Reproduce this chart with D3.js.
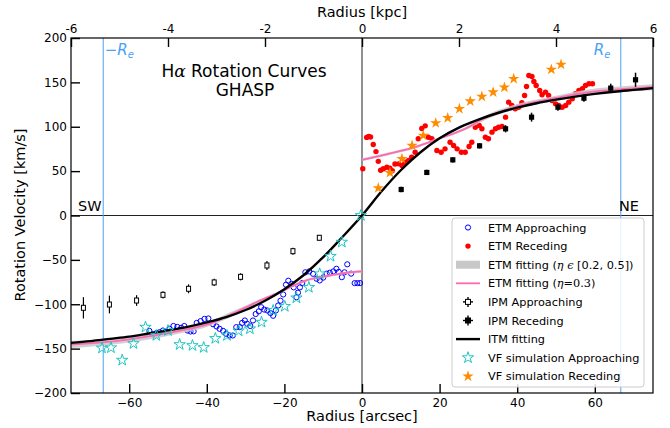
<!DOCTYPE html>
<html><head><meta charset="utf-8">
<script src="https://cdn.jsdelivr.net/npm/d3@7"></script>
<style>body{margin:0;background:#fff}svg{display:block}text{font-family:"DejaVu Sans",sans-serif}</style>
</head><body><svg id="c" width="670" height="428"></svg>
<script>
// ---------------- DATA ----------------
const xTicks = [-60,-40,-20,0,20,40,60];
const yTicks = [-200,-150,-100,-50,0,50,100,150,200];
const kpcTicks = [-6,-4,-2,0,2,4,6];
const Re = 66.7;

// ETM Approaching (blue open circles)
const etmAppR = [-54.8,-53.9,-53.0,-52.2,-51.3,-50.5,-49.6,-48.6,-47.6,-46.6,-45.8,-45.0,-44.2,-43.4,-42.6,-41.6,-40.6,-39.6,-38.4,-37.5,-36.7,-35.8,-35.0,-34.1,-33.3,-32.4,-31.5,-30.9,-30.2,-29.6,-28.8,-28.1,-27.4,-26.6,-26.0,-25.2,-24.4,-23.6,-22.9,-22.2,-21.6,-21.0,-20.3,-19.6,-19.0,-18.2,-17.6,-16.9,-16.5,-16.0,-15.4,-14.6,-13.6,-12.6,-11.7,-10.9,-10.0,-9.1,-8.3,-7.4,-6.6,-6.0,-5.2,-4.5,-3.8,-2.8,-1.9,-1.2,-0.5];
const etmAppV = [-130,-134,-132.5,-131.5,-129.6,-131,-127.7,-124.5,-125.5,-126.5,-124.5,-129.6,-130.7,-130.5,-121,-119,-116.5,-116,-122.5,-125,-127.7,-130,-133.3,-135.2,-135.2,-125.8,-125.8,-121,-118.3,-122,-124.5,-118.3,-111,-108,-103.3,-106,-107,-110,-113,-107,-101.4,-96,-89,-78,-73.5,-77,-81,-92,-87,-81,-76,-64,-63,-65.7,-71.3,-73.2,-70,-65.5,-64.5,-63,-60,-63.5,-69.5,-64,-55,-65.5,-76.2,-76.2,-76.2];

// ETM Receding (red dots)
const etmRecR = [0.2,1.2,1.7,2.2,2.9,3.6,4.2,4.8,5.5,6.4,7.2,7.8,8.5,9.4,10.3,11.1,12.0,12.8,13.7,14.5,15.4,16.3,17.1,18.0,19.3,20.4,21.4,22.7,23.6,24.5,25.6,26.6,27.6,28.3,29.2,30.2,30.9,31.8,32.6,33.5,34.4,35.2,36.1,37.0,37.8,38.6,39.5,40.4,41.2,41.9,42.4,43.0,43.8,44.3,44.9,45.8,46.4,47.3,48.1,49.0,49.9,50.7,51.6,52.5,53.3,54.2,55.0,55.9,56.8,57.6,58.5,59.4];
const etmRecV = [52.6,88,89,88.5,80,72,61,51,52.6,54.4,53.3,50.5,58,58.2,56.3,60,62,65.7,71.3,86.4,98,101,88.2,86.4,73.2,71.3,75.1,82.6,78.9,75.1,71.3,71.3,77.7,82.6,99.5,101.4,97.7,88.2,86.4,93.9,97.7,99.5,100.3,110.8,127.7,124,120.2,122,127,135.2,145.4,157.7,156.6,151,146.5,140.8,136,139,135.2,129.6,125.8,124,122,124,127.7,131.5,137.1,140.8,142.8,146.5,148.4,148.4];

// ETM fitting eta in [0.2,0.5] (gray band) and eta = 0.3 (pink)
const bandAppR   = [-75,-67,-60,-52,-45,-40,-34,-27.2,-21.2,-14.3,-8.3,-4,0];
const bandAppLow = [-149.5,-146.5,-143,-137.5,-131,-125.5,-115,-99.5,-88,-74.5,-69,-66,-64.5];
const bandAppHigh= [-141,-139.5,-136,-130.5,-125,-120.5,-109,-96,-85,-71.5,-66.5,-63.5,-61.5];
const bandRecR   = [0,6.8,13.7,19.7,26.6,31,40,50,58.5,67,75];
const bandRecLow = [61.5,68,75.5,85,96,106,120,129,135.5,139,141];
const bandRecHigh= [64.5,71,78.5,88,99.5,111,125.5,135,142,145.5,148];
const pinkAppR = [-75,-67,-60,-52,-45,-40,-34,-27.2,-21.2,-14.3,-8.3,-4,0];
const pinkAppV = [-145.5,-143,-139.5,-134,-128,-123,-112,-97.7,-86.4,-73,-67.6,-64.5,-63];
const pinkRecR = [0,6.8,13.7,19.7,26.6,31,40,50,58.5,67,75];
const pinkRecV = [62.7,69.5,77,86.4,97.7,108.5,123,132.5,139,142.5,145];

// IPM Approaching / Receding (squares with error bars)
const ipmAppR = [-71.8,-65.1,-58.1,-51.3,-44.7,-38.1,-31.3,-24.5,-17.8,-11.0];
const ipmAppV = [-104,-100.3,-95.8,-89.4,-82.6,-75.4,-69.1,-56.3,-40.2,-25.1];
const ipmAppE = [12,10,6,4,5,4,4,5,4,3];
const ipmRecR = [10.1,16.7,23.4,30.3,37.0,43.7,50.5,57.2,64.1,70.5];
const ipmRecV = [29.3,48.5,62.7,78.5,97.7,110.8,122,132.2,143.5,152.9];
const ipmRecE = [3,3,3,3,4,5,4,4,5,8];

// ITM fitting (black)
const itmR = [-75,-70,-65,-60,-55,-50,-45,-40,-35,-30,-25,-20,-15,-10,-5,0,5,10,15,20,25,30,35,40,45,50,55,60,65,70,75];
const itmV = [-143.5,-141.5,-139,-136.5,-133,-129.5,-125.5,-120.5,-114.5,-106.5,-96,-83,-67,-47,-24,0,27,51,71,87,99,108,115.5,121.5,126.5,130.5,134,137,139.5,141.5,143.5];

// VF simulation Approaching / Receding (stars)
const vfAppR = [-67,-64.7,-61.8,-58.9,-55.8,-53,-50,-47,-43.7,-40.8,-37.8,-34.8,-31.8,-28.9,-25.9,-22.9,-19.9,-16.9,-13.7,-10.9,-8.1,-5.2,-0.3];
const vfAppV = [-149.3,-149,-163,-144.3,-125.8,-135.2,-129.6,-145.4,-146.5,-148.7,-138.5,-135.2,-130,-127.7,-120.2,-107,-102.4,-92.8,-81,-65.7,-46,-30,0];
const vfRecR = [4.2,7.2,10.3,12.9,15.8,19.0,22.1,25.1,27.9,30.9,33.8,36.7,39.1,48.8,51.3];
const vfRecV = [31,48.2,63.9,78.9,90.1,104.2,110,120.2,128.8,134,139,144.4,154,164.5,170.1];

const legendLabels = ["ETM Approaching","ETM Receding","ETM fitting","ETM fitting","IPM Approaching","IPM Receding","ITM fitting","VF simulation Approaching","VF simulation Receding"];

// ---------------- DRAW ----------------
const svg = d3.select("#c");
const L=71,R=653,T=38,B=393;
const x = d3.scaleLinear().domain([-75,75]).range([L,R]);
const xk = d3.scaleLinear().domain([-6,6]).range([L,R]);
const y = d3.scaleLinear().domain([-200,200]).range([B,T]);
const zip = (a,b)=>a.map((v,i)=>[v,b[i]]);

svg.append("defs").append("clipPath").attr("id","clip")
  .append("rect").attr("x",L).attr("y",T).attr("width",R-L).attr("height",B-T);
const g = svg.append("g").attr("clip-path","url(#clip)");

// zero lines
g.append("line").attr("x1",L).attr("x2",R).attr("y1",y(0)).attr("y2",y(0)).attr("stroke","#222").attr("stroke-width",1);
g.append("line").attr("x1",x(0)).attr("x2",x(0)).attr("y1",T).attr("y2",B).attr("stroke","#222").attr("stroke-width",1);
// Re lines
const blue="#4a9ff5";
[-Re,Re].forEach(r=>g.append("line").attr("x1",x(r)).attr("x2",x(r)).attr("y1",T).attr("y2",B).attr("stroke",blue).attr("stroke-width",1));

// ETM approaching
g.append("g").selectAll("circle").data(zip(etmAppR,etmAppV)).join("circle")
  .attr("cx",d=>x(d[0])).attr("cy",d=>y(d[1])).attr("r",2.6)
  .attr("fill","none").attr("stroke","#0000ff").attr("stroke-width",1);
// ETM receding
g.append("g").selectAll("circle").data(zip(etmRecR,etmRecV)).join("circle")
  .attr("cx",d=>x(d[0])).attr("cy",d=>y(d[1])).attr("r",2.7).attr("fill","#ff0000");

// band
const area = d3.area().x(d=>x(d[0])).y0(d=>y(d[1])).y1(d=>y(d[2])).curve(d3.curveMonotoneX);
g.append("path").datum(bandAppR.map((r,i)=>[r,bandAppLow[i],bandAppHigh[i]])).attr("d",area).attr("fill","#c8c8c8").attr("opacity",0.85);
g.append("path").datum(bandRecR.map((r,i)=>[r,bandRecLow[i],bandRecHigh[i]])).attr("d",area).attr("fill","#c8c8c8").attr("opacity",0.85);
const line = d3.line().x(d=>x(d[0])).y(d=>y(d[1])).curve(d3.curveMonotoneX);
const pink="#ff69b4";
g.append("path").datum(zip(pinkAppR,pinkAppV)).attr("d",line).attr("fill","none").attr("stroke",pink).attr("stroke-width",1.8);
g.append("path").datum(zip(pinkRecR,pinkRecV)).attr("d",line).attr("fill","none").attr("stroke",pink).attr("stroke-width",1.8);

// IPM
const ipmA = g.append("g");
zip(ipmAppR,ipmAppV).forEach((d,i)=>{
  ipmA.append("line").attr("x1",x(d[0])).attr("x2",x(d[0])).attr("y1",y(d[1]-ipmAppE[i])).attr("y2",y(d[1]+ipmAppE[i])).attr("stroke","#000").attr("stroke-width",1.2);
  ipmA.append("rect").attr("x",x(d[0])-2).attr("y",y(d[1])-2.5).attr("width",4).attr("height",5).attr("fill","#fff").attr("stroke","#000").attr("stroke-width",1);
});
const ipmRg = g.append("g");
zip(ipmRecR,ipmRecV).forEach((d,i)=>{
  ipmRg.append("line").attr("x1",x(d[0])).attr("x2",x(d[0])).attr("y1",y(d[1]-ipmRecE[i])).attr("y2",y(d[1]+ipmRecE[i])).attr("stroke","#000").attr("stroke-width",1.5);
  ipmRg.append("rect").attr("x",x(d[0])-2.6).attr("y",y(d[1])-2.6).attr("width",5.2).attr("height",5.2).attr("fill","#000");
});

// ITM
const smooth = d3.line().x(d=>x(d[0])).y(d=>y(d[1])).curve(d3.curveCatmullRom.alpha(0.5));
g.append("path").datum(zip(itmR,itmV)).attr("d",smooth).attr("fill","none").attr("stroke","#000").attr("stroke-width",2.4);

// VF stars
const star = d3.symbol().type(d3.symbolStar).size(40);
const cyan="#1fc4c4", orange="#ff8c00";
g.append("g").selectAll("path").data(zip(vfAppR,vfAppV)).join("path").attr("d",star)
  .attr("transform",d=>`translate(${x(d[0])},${y(d[1])})`).attr("fill","none").attr("stroke",cyan).attr("stroke-width",1);
g.append("g").selectAll("path").data(zip(vfRecR,vfRecV)).join("path").attr("d",star)
  .attr("transform",d=>`translate(${x(d[0])},${y(d[1])})`).attr("fill",orange);

// axes
const fmtM = d=> d<0 ? "\u2212"+Math.abs(d) : ""+d;
const ax = svg.append("g").attr("transform",`translate(0,${B})`).call(d3.axisBottom(x).tickValues(xTicks).tickSize(-9).tickPadding(5).tickFormat(fmtM));
const ay = svg.append("g").attr("transform",`translate(${L},0)`).call(d3.axisLeft(y).tickValues(yTicks).tickSize(-9).tickPadding(4).tickFormat(fmtM));
const at = svg.append("g").attr("transform",`translate(0,${T})`).call(d3.axisTop(xk).tickValues(kpcTicks).tickSize(-9).tickPadding(5).tickFormat(d=>d<0?"-"+Math.abs(d):""+d));
[ax,ay,at].forEach(a=>{a.select(".domain").remove();a.selectAll(".tick line").attr("stroke","#000").attr("stroke-width",1.4);a.selectAll("text").attr("font-size",12).attr("fill","#000").attr("font-family","DejaVu Sans");});
svg.append("rect").attr("x",L).attr("y",T).attr("width",R-L).attr("height",B-T).attr("fill","none").attr("stroke","#000").attr("stroke-width",1.2);

// labels
svg.append("text").attr("x",362).attr("y",421).attr("text-anchor","middle").attr("font-size",14.5).text("Radius [arcsec]");
svg.append("text").attr("x",362).attr("y",17).attr("text-anchor","middle").attr("font-size",14.5).text("Radius [kpc]");
svg.append("text").attr("transform","translate(25,215) rotate(-90)").attr("text-anchor","middle").attr("font-size",14.5).text("Rotation Velocity [km/s]");

const t1 = svg.append("text").attr("x",244).attr("y",77).attr("text-anchor","middle").attr("font-size",17);
t1.append("tspan").text("H");
t1.append("tspan").attr("font-family","DejaVu Serif").attr("font-style","italic").text("\u03b1");
t1.append("tspan").text(" Rotation Curves");
svg.append("text").attr("x",245).attr("y",96).attr("text-anchor","middle").attr("font-size",17).text("GHASP");

svg.append("text").attr("x",78).attr("y",211).attr("font-size",14.5).text("SW");
svg.append("text").attr("x",619).attr("y",211).attr("font-size",14.5).text("NE");

const reL = svg.append("text").attr("x",x(-Re)+1.5).attr("y",55).attr("fill",blue).attr("font-size",15).attr("font-family","DejaVu Serif");
reL.append("tspan").text("\u2212");
reL.append("tspan").attr("font-style","italic").text("R");
reL.append("tspan").attr("font-style","italic").attr("font-size",10).attr("dy",3).text("e");
const reR = svg.append("text").attr("x",x(Re)-27).attr("y",55).attr("fill",blue).attr("font-size",15).attr("font-family","DejaVu Serif");
reR.append("tspan").attr("font-style","italic").text("R");
reR.append("tspan").attr("font-style","italic").attr("font-size",10).attr("dy",3).text("e");

// legend
const lg = svg.append("g");
lg.append("rect").attr("x",452).attr("y",218).attr("width",192).attr("height",169).attr("rx",3)
  .attr("fill","#fff").attr("fill-opacity",0.85).attr("stroke","#cccccc").attr("stroke-width",1);
const rowY = i=>227.5+i*18.6, mx=468, tx=488;
legendLabels.forEach((lab,i)=>{
  const t = lg.append("text").attr("x",tx).attr("y",rowY(i)+4).attr("font-size",11.3);
  if(i===2){
    t.append("tspan").text(lab+" (");
    t.append("tspan").attr("font-family","DejaVu Serif").attr("font-style","italic").text("\u03b7 \u03f5");
    t.append("tspan").text(" [0.2, 0.5])");
  } else if(i===3){
    t.append("tspan").text(lab+" (");
    t.append("tspan").attr("font-family","DejaVu Serif").attr("font-style","italic").text("\u03b7");
    t.append("tspan").attr("font-family","DejaVu Serif").text("=0.3");
    t.append("tspan").text(")");
  } else t.text(lab);
});
lg.append("circle").attr("cx",mx).attr("cy",rowY(0)).attr("r",2.6).attr("fill","none").attr("stroke","#0000ff");
lg.append("circle").attr("cx",mx).attr("cy",rowY(1)).attr("r",2.7).attr("fill","#ff0000");
lg.append("rect").attr("x",456).attr("y",rowY(2)-4).attr("width",24).attr("height",8).attr("fill","#c8c8c8");
lg.append("line").attr("x1",456).attr("x2",480).attr("y1",rowY(3)).attr("y2",rowY(3)).attr("stroke",pink).attr("stroke-width",1.8);
[4,5].forEach(i=>{
  lg.append("line").attr("x1",mx-5).attr("x2",mx+5).attr("y1",rowY(i)).attr("y2",rowY(i)).attr("stroke","#000").attr("stroke-width",1.4);
  lg.append("line").attr("x1",mx).attr("x2",mx).attr("y1",rowY(i)-5).attr("y2",rowY(i)+5).attr("stroke","#000").attr("stroke-width",1.4);
  lg.append("rect").attr("x",mx-2.5).attr("y",rowY(i)-2.5).attr("width",5).attr("height",5).attr("fill",i===4?"#fff":"#000").attr("stroke","#000");
});
lg.append("line").attr("x1",456).attr("x2",480).attr("y1",rowY(6)).attr("y2",rowY(6)).attr("stroke","#000").attr("stroke-width",2.4);
lg.append("path").attr("d",star).attr("transform",`translate(${mx},${rowY(7)})`).attr("fill","none").attr("stroke",cyan);
lg.append("path").attr("d",star).attr("transform",`translate(${mx},${rowY(8)})`).attr("fill",orange);
</script></body></html>
